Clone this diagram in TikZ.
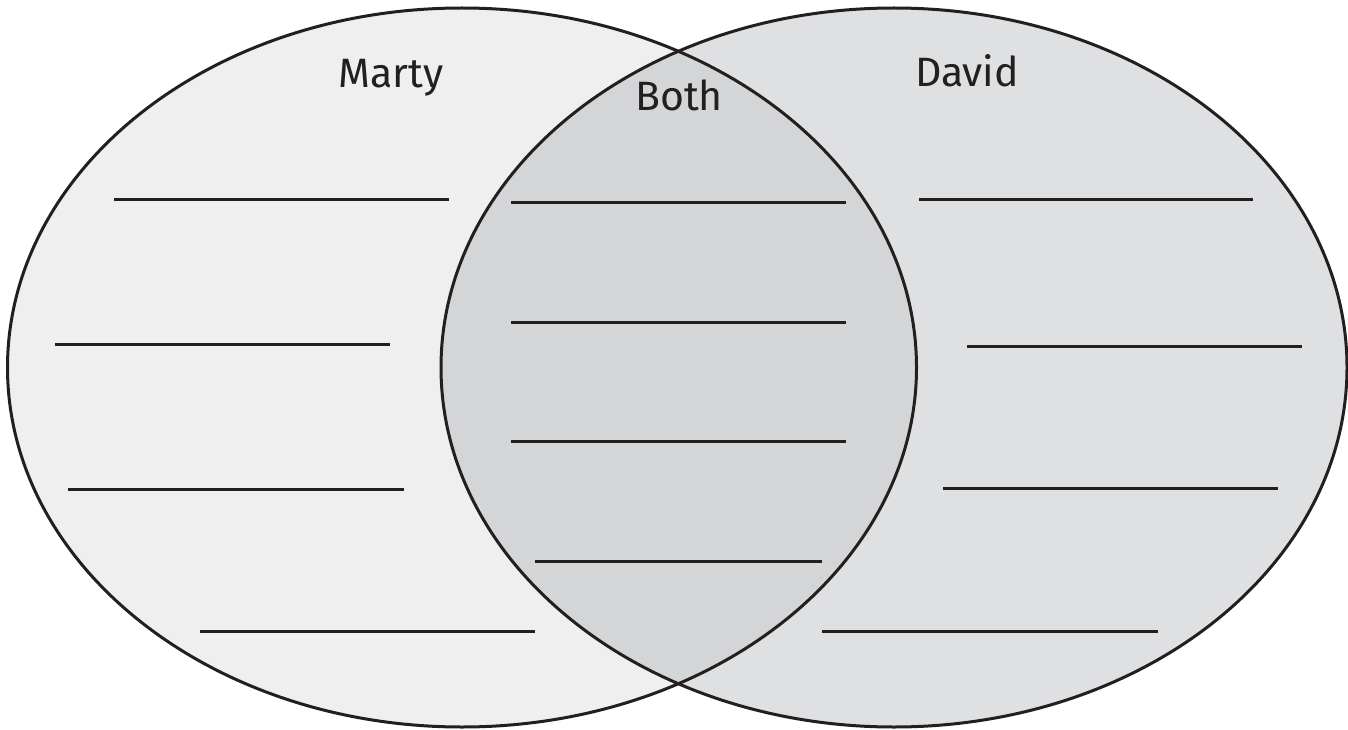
\documentclass[tikz,border=0pt]{standalone}
\usepackage{fontspec}
\setmainfont{Fira Sans}
\definecolor{leftfill}{HTML}{EFEFEF}
\definecolor{rightfill}{HTML}{DFE0E2}
\definecolor{bothfill}{HTML}{D4D5D7}
\definecolor{ink}{HTML}{231F20}
\tikzset{
  outline/.style={draw=ink, line width=3pt},
  blank/.style={draw=ink, line width=3pt},
  label/.style={anchor=base, font=\fontsize{41}{44}\selectfont, text=ink, inner sep=0pt},
}
\begin{document}
\begin{tikzpicture}[x=1pt,y=-1pt]
\useasboundingbox (0,0) rectangle (1348,730);
% fills
\fill[leftfill] (462,367.5) ellipse [x radius=454.5, y radius=359.5];
\fill[rightfill] (894,367.5) ellipse [x radius=453, y radius=359.5];
\begin{scope}
  \clip (462,367.5) ellipse [x radius=454.5, y radius=359.5];
  \fill[bothfill] (894,367.5) ellipse [x radius=453, y radius=359.5];
\end{scope}
% outlines
\draw[outline] (462,367.5) ellipse [x radius=454.5, y radius=359.5];
\draw[outline] (894,367.5) ellipse [x radius=453, y radius=359.5];
% labels
\node[label] (marty) at (391,88) {Marty};
\node[label] (both) at (679,111) {Both};
\node[label] (david) at (967,87) {David};
% blanks, left
\coordinate (l1a) at (114,199); \coordinate (l1b) at (449,199);
\coordinate (l2a) at (55,344);  \coordinate (l2b) at (390,344);
\coordinate (l3a) at (68,489);  \coordinate (l3b) at (404,489);
\coordinate (l4a) at (200,631); \coordinate (l4b) at (535,631);
% blanks, middle
\coordinate (m1a) at (511,202); \coordinate (m1b) at (846,202);
\coordinate (m2a) at (511,322); \coordinate (m2b) at (846,322);
\coordinate (m3a) at (511,441); \coordinate (m3b) at (846,441);
\coordinate (m4a) at (535,561); \coordinate (m4b) at (822,561);
% blanks, right
\coordinate (r1a) at (919,199);  \coordinate (r1b) at (1253,199);
\coordinate (r2a) at (967,346);  \coordinate (r2b) at (1302,346);
\coordinate (r3a) at (943,488);  \coordinate (r3b) at (1278,488);
\coordinate (r4a) at (822,631);  \coordinate (r4b) at (1158,631);
\foreach \p in {l1,l2,l3,l4,m1,m2,m3,m4,r1,r2,r3,r4}
  \draw[blank] (\p a) -- (\p b);
\end{tikzpicture}
\end{document}
